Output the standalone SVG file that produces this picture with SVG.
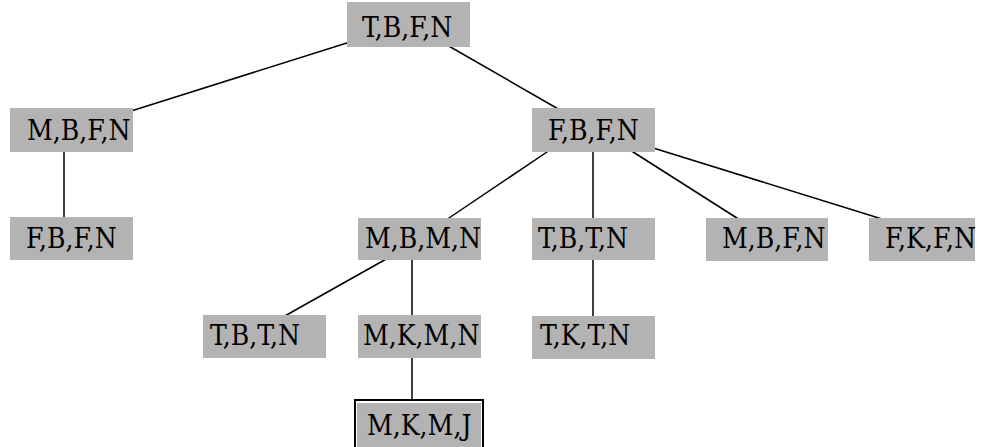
<svg xmlns="http://www.w3.org/2000/svg" width="987" height="447" viewBox="0 0 987 447">
<style>
.box{fill:#b3b3b3}
.lbl{font-family:"DejaVu Serif Condensed","DejaVu Serif",serif;font-stretch:condensed;font-size:28px;fill:#000}
.edge{stroke:#000;stroke-width:1.5;fill:none}
</style>
<rect width="987" height="447" fill="#fff"/>
<g id="connectors">
<line class="edge" x1="350" y1="42" x2="128" y2="112"/>
<line class="edge" x1="447" y1="45" x2="560" y2="110"/>
<line class="edge" x1="64" y1="150" x2="64" y2="219"/>
<line class="edge" x1="550" y1="150" x2="446" y2="220"/>
<line class="edge" x1="593" y1="150" x2="593" y2="220"/>
<line class="edge" x1="630" y1="150" x2="740" y2="220"/>
<line class="edge" x1="650" y1="147" x2="882" y2="219"/>
<line class="edge" x1="388" y1="258" x2="283" y2="317"/>
<line class="edge" x1="412" y1="258" x2="412" y2="317"/>
<line class="edge" x1="593" y1="258" x2="593" y2="318"/>
<line class="edge" x1="412" y1="356" x2="412" y2="400"/>
</g>
<g id="n1"><rect class="box" x="347" y="2" width="123" height="45"/><text class="lbl" x="362" y="37">T,B,F,N</text></g>
<g id="n2"><rect class="box" x="10" y="108" width="123" height="44"/><text class="lbl" x="27" y="140">M,B,F,N</text></g>
<g id="n3"><rect class="box" x="532" y="108" width="123" height="44"/><text class="lbl" x="548" y="140">F,B,F,N</text></g>
<g id="n4"><rect class="box" x="10" y="217" width="123" height="43"/><text class="lbl" x="26" y="248">F,B,F,N</text></g>
<g id="n5"><rect class="box" x="358" y="218" width="123" height="42"/><text class="lbl" x="365" y="248">M,B,M,N</text></g>
<g id="n6"><rect class="box" x="532" y="218" width="123" height="42"/><text class="lbl" x="538" y="248">T,B,T,N</text></g>
<g id="n7"><rect class="box" x="706" y="218" width="122" height="43"/><text class="lbl" x="722" y="248">M,B,F,N</text></g>
<g id="n8"><rect class="box" x="869" y="218" width="106" height="43"/><text class="lbl" x="885" y="248">F,K,F,N</text></g>
<g id="n9"><rect class="box" x="203" y="315" width="123" height="43"/><text class="lbl" x="210" y="345">T,B,T,N</text></g>
<g id="n10"><rect class="box" x="358" y="315" width="123" height="43"/><text class="lbl" x="363" y="345">M,K,M,N</text></g>
<g id="n11"><rect class="box" x="532" y="316" width="123" height="43"/><text class="lbl" x="540" y="345">T,K,T,N</text></g>
<g id="n12"><rect x="355" y="400" width="128" height="52" fill="none" stroke="#000" stroke-width="2"/><rect class="box" x="357" y="403" width="124" height="50"/><text class="lbl" x="367" y="435">M,K,M,J</text></g>
</svg>
